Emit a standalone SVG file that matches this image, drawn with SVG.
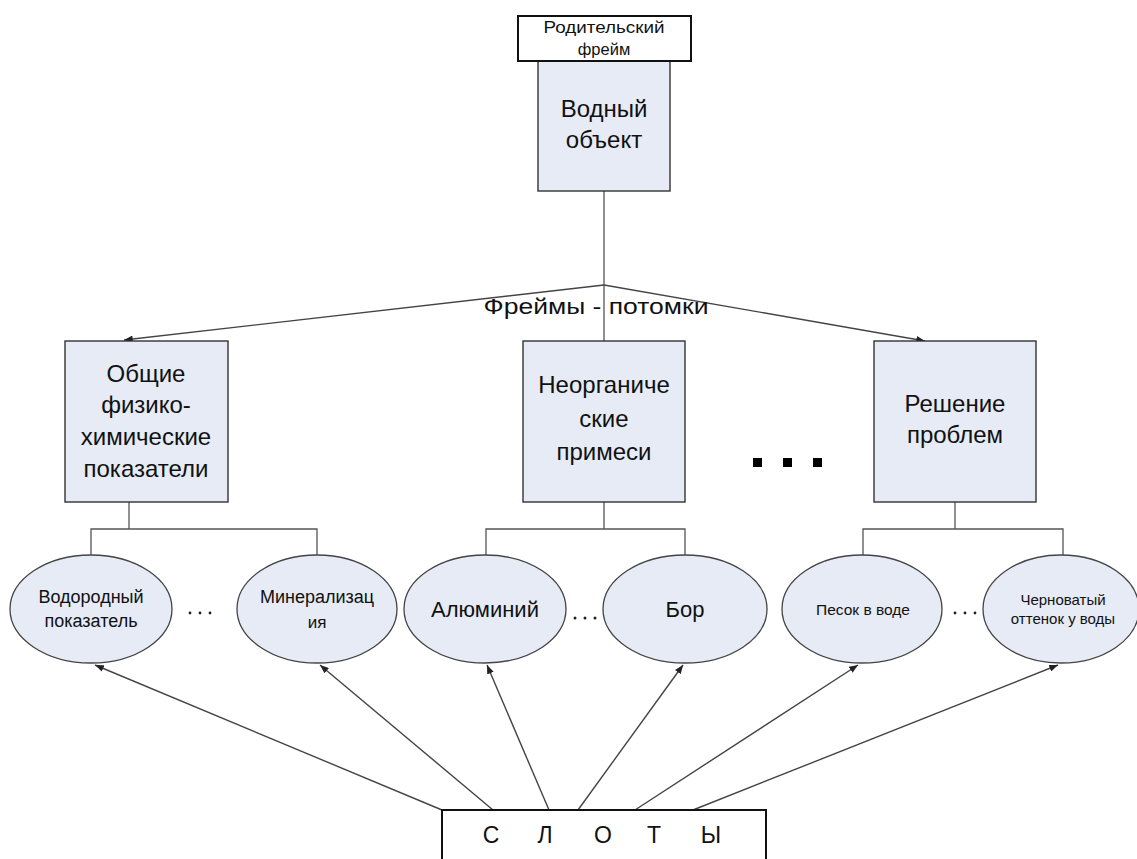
<svg xmlns="http://www.w3.org/2000/svg" width="1137" height="859" viewBox="0 0 1137 859">
<defs>
<style>
.box{fill:#e6ebf6;stroke:#333;stroke-width:1.4}
.ell{fill:#e6ebf6;stroke:#444;stroke-width:1.3}
.t{font-family:"Liberation Sans",Arial,sans-serif;fill:#111;text-anchor:middle}
.ln{stroke:#555;stroke-width:1.3;fill:none}
.ar{stroke:#444;stroke-width:1.4;fill:none;marker-end:url(#ah)}
.dot{fill:#222}
</style>
<marker id="ah" viewBox="0 0 10 8" refX="10" refY="4" markerWidth="9" markerHeight="7" markerUnits="userSpaceOnUse" orient="auto">
<path d="M0,0 L10,4 L0,8 z" fill="#222"/>
</marker>
</defs>
<rect width="1137" height="859" fill="#fff"/>

<g id="connectors">
<line class="ln" x1="604" y1="191" x2="604" y2="341"/>
<line class="ar" x1="604" y1="285" x2="124" y2="340"/>
<line class="ar" x1="604" y1="285" x2="925" y2="341"/>
<polyline class="ln" points="129,502 129,529"/>
<polyline class="ln" points="91,555 91,529 317,529 317,555"/>
<polyline class="ln" points="604,502 604,529"/>
<polyline class="ln" points="486,555 486,529 685,529 685,555"/>
<polyline class="ln" points="955,502 955,529"/>
<polyline class="ln" points="863,555 863,529 1063,529 1063,555"/>
<line class="ar" x1="442" y1="810" x2="95" y2="665"/>
<line class="ar" x1="493" y1="810" x2="320" y2="665"/>
<line class="ar" x1="549" y1="810" x2="487" y2="665"/>
<line class="ar" x1="578" y1="810" x2="683" y2="665"/>
<line class="ar" x1="635" y1="810" x2="858" y2="665"/>
<line class="ar" x1="693" y1="810" x2="1058" y2="665"/>
</g>

<g id="label-children">
<text class="t" x="596" y="314" font-size="22" textLength="225" lengthAdjust="spacingAndGlyphs">Фреймы - потомки</text>
</g>

<g id="water-object">
<rect class="box" x="538" y="61" width="132" height="130"/>
<text class="t" x="604" y="117" font-size="24">Водный</text>
<text class="t" x="604" y="148" font-size="24">объект</text>
</g>

<g id="parent-frame">
<rect x="518" y="16" width="173" height="45" fill="#fff" stroke="#111" stroke-width="2"/>
<text class="t" x="604" y="33" font-size="16.5" textLength="121" lengthAdjust="spacingAndGlyphs">Родительский</text>
<text class="t" x="604" y="55" font-size="16.5">фрейм</text>
</g>

<g id="general">
<rect class="box" x="65" y="341" width="163" height="161"/>
<text class="t" x="146" y="382" font-size="24">Общие</text>
<text class="t" x="146" y="413" font-size="24">физико-</text>
<text class="t" x="146" y="445" font-size="24">химические</text>
<text class="t" x="146" y="477" font-size="24">показатели</text>
</g>

<g id="inorganic">
<rect class="box" x="523" y="341" width="162" height="161"/>
<text class="t" x="604" y="393" font-size="24">Неорганиче</text>
<text class="t" x="604" y="427" font-size="24">ские</text>
<text class="t" x="604" y="460" font-size="24">примеси</text>
</g>

<g id="ellipsis-big">
<rect x="753" y="458" width="9" height="9" fill="#000"/>
<rect x="783" y="458" width="9" height="9" fill="#000"/>
<rect x="813" y="458" width="9" height="9" fill="#000"/>
</g>

<g id="problems">
<rect class="box" x="874" y="341" width="162" height="161"/>
<text class="t" x="955" y="412" font-size="24">Решение</text>
<text class="t" x="955" y="443" font-size="24">проблем</text>
</g>

<g id="hydrogen">
<ellipse class="ell" cx="91" cy="609" rx="81" ry="54"/>
<text class="t" x="91" y="603" font-size="18">Водородный</text>
<text class="t" x="91" y="627" font-size="18">показатель</text>
</g>
<g id="dots1"><circle class="dot" cx="190" cy="613" r="1.4"/><circle class="dot" cx="200" cy="613" r="1.4"/><circle class="dot" cx="210" cy="613" r="1.4"/></g>
<g id="mineral">
<ellipse class="ell" cx="317" cy="609" rx="80" ry="54"/>
<text class="t" x="317" y="603" font-size="18">Минерализац</text>
<text class="t" x="317" y="628" font-size="17">ия</text>
</g>

<g id="aluminium">
<ellipse class="ell" cx="485" cy="609" rx="81" ry="54"/>
<text class="t" x="485" y="617" font-size="22">Алюминий</text>
</g>
<g id="dots2"><circle class="dot" cx="575" cy="618" r="1.5"/><circle class="dot" cx="585" cy="618" r="1.5"/><circle class="dot" cx="595" cy="618" r="1.5"/></g>
<g id="boron">
<ellipse class="ell" cx="685" cy="609" rx="82" ry="54"/>
<text class="t" x="685" y="617" font-size="22">Бор</text>
</g>

<g id="sand">
<ellipse class="ell" cx="862" cy="609" rx="80" ry="54"/>
<text class="t" x="863" y="615" font-size="15.5">Песок в воде</text>
</g>
<g id="dots3"><circle class="dot" cx="955" cy="613" r="1.4"/><circle class="dot" cx="965" cy="613" r="1.4"/><circle class="dot" cx="975" cy="613" r="1.4"/></g>
<g id="black-tint">
<ellipse class="ell" cx="1061" cy="609" rx="78" ry="54"/>
<text class="t" x="1063" y="605" font-size="15">Черноватый</text>
<text class="t" x="1063" y="624" font-size="15">оттенок у воды</text>
</g>

<g id="slots">
<rect x="442" y="810" width="324" height="60" fill="#fff" stroke="#111" stroke-width="2"/>
<text class="t" x="491" y="843" font-size="23">С</text>
<text class="t" x="545" y="843" font-size="23">Л</text>
<text class="t" x="603" y="843" font-size="23">О</text>
<text class="t" x="654" y="843" font-size="23">Т</text>
<text class="t" x="711" y="843" font-size="23">Ы</text>
</g>
</svg>
